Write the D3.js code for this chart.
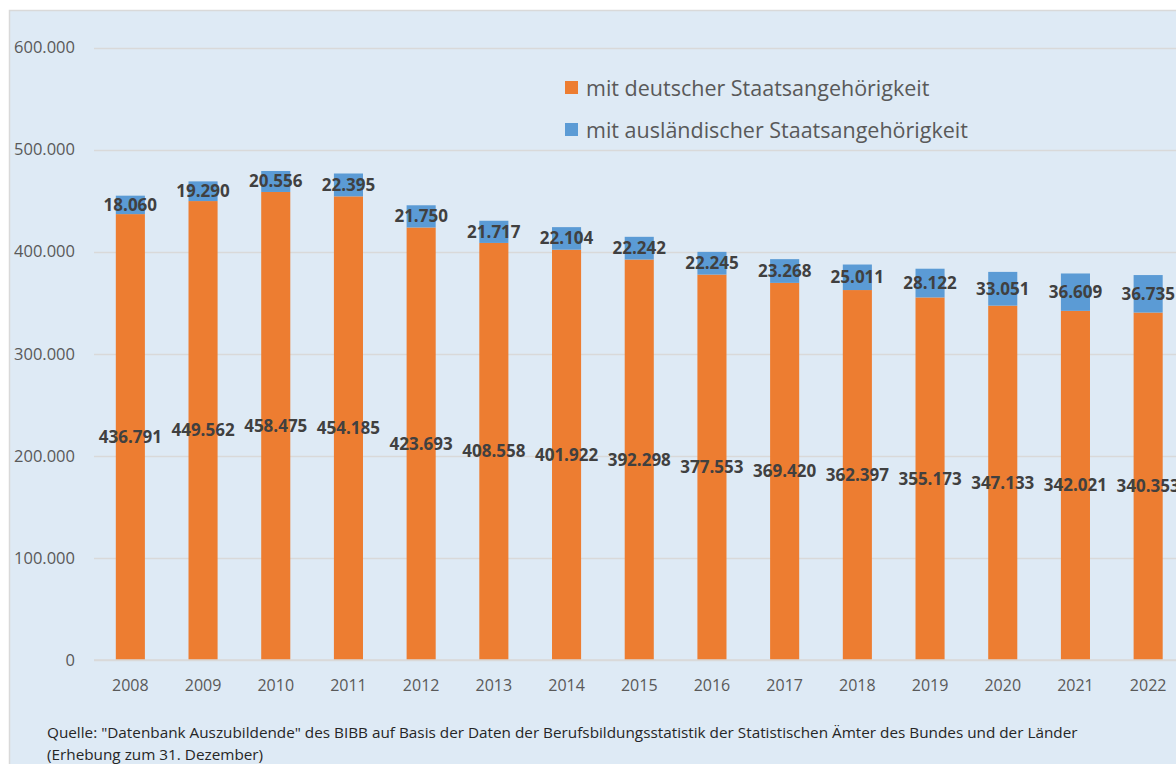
<!DOCTYPE html>
<html>
<head>
<meta charset="utf-8">
<script src="https://cdn.jsdelivr.net/npm/d3@7"></script>
<style>
  body { margin: 0; background: #fff; }
  svg { display: block; }
</style>
</head>
<body>
<div id="chart"></div>
<script>
// Data
const years = ["2008", "2009", "2010", "2011", "2012", "2013", "2014", "2015",
               "2016", "2017", "2018", "2019", "2020", "2021", "2022"];
const deutsch = [436791, 449562, 458475, 454185, 423693, 408558, 401922, 392298,
                 377553, 369420, 362397, 355173, 347133, 342021, 340353];
const auslaendisch = [18060, 19290, 20556, 22395, 21750, 21717, 22104, 22242,
                      22245, 23268, 25011, 28122, 33051, 36609, 36735];
const yTicks = [0, 100000, 200000, 300000, 400000, 500000, 600000];
const seriesNames = ["mit deutscher Staatsangehörigkeit", "mit ausländischer Staatsangehörigkeit"];
const sourceLines = [
  "Quelle: \"Datenbank Auszubildende\" des BIBB auf Basis der Daten der Berufsbildungsstatistik der Statistischen Ämter des Bundes und der Länder",
  "(Erhebung zum 31. Dezember)"
];

const W = 1176, H = 764;
const colors = ["#ed7d31", "#5b9bd5"];
const fmt = d => d3.format(",")(d).replace(/,/g, ".");

const svg = d3.select("#chart")
  .append("svg")
  .attr("width", W)
  .attr("height", H)
  .style("font-family", "'Open Sans', sans-serif");

// panel background
svg.append("rect")
  .attr("x", 9.5).attr("y", 10.5)
  .attr("width", W + 20).attr("height", H + 20)
  .attr("fill", "#deeaf5")
  .attr("stroke", "#d9d9d9")
  .attr("stroke-width", 1.5);

// scales
const x = d3.scaleBand()
  .domain(years)
  .range([94, 94 + 72.7 * years.length])
  .paddingInner(0.6)
  .paddingOuter(0.3);

const y = d3.scaleLinear()
  .domain([0, 600000])
  .range([660, 47.5]);

// gridlines
svg.append("g")
  .selectAll("line")
  .data(yTicks)
  .join("line")
    .attr("x1", 94).attr("x2", W)
    .attr("y1", d => Math.round(y(d)) + 0.5)
    .attr("y2", d => Math.round(y(d)) + 0.5)
    .attr("stroke", "#d9d9d9")
    .attr("stroke-width", 1.5);

// y tick labels
svg.append("g")
  .selectAll("text")
  .data(yTicks)
  .join("text")
    .attr("x", 75)
    .attr("y", d => y(d))
    .attr("dy", "0.35em")
    .attr("text-anchor", "end")
    .attr("fill", "#595959")
    .style("font-size", "16.5px")
    .text(d => d === 0 ? "0" : fmt(d));

// stacked bars
const rows = years.map((yr, i) => ({ year: yr, d: deutsch[i], a: auslaendisch[i] }));
const stack = d3.stack().keys(["d", "a"])(rows);

const layers = svg.append("g")
  .selectAll("g")
  .data(stack)
  .join("g")
    .attr("fill", (d, i) => colors[i]);

layers.selectAll("rect")
  .data(d => d)
  .join("rect")
    .attr("x", d => x(d.data.year))
    .attr("width", x.bandwidth())
    .attr("y", d => y(d[1]))
    .attr("height", d => y(d[0]) - y(d[1]));

// value labels, centered in each segment
layers.each(function(layer) {
  d3.select(this).selectAll("text")
    .data(layer)
    .join("text")
      .attr("x", d => x(d.data.year) + x.bandwidth() / 2)
      .attr("y", d => y((d[0] + d[1]) / 2))
      .attr("dy", "0.35em")
      .attr("text-anchor", "middle")
      .attr("fill", "#404040")
      .style("font-size", "17px")
      .style("font-weight", "bold")
      .text(d => fmt(d[1] - d[0]));
});

// x axis line
svg.append("line")
  .attr("x1", 94).attr("x2", W)
  .attr("y1", 660).attr("y2", 660)
  .attr("stroke", "#d9d9d9")
  .attr("stroke-width", 1.5);

// year labels
svg.append("g")
  .selectAll("text")
  .data(years)
  .join("text")
    .attr("x", d => x(d) + x.bandwidth() / 2)
    .attr("y", 685)
    .attr("dy", "0.35em")
    .attr("text-anchor", "middle")
    .attr("fill", "#595959")
    .style("font-size", "16px")
    .text(d => d);

// legend
const legend = svg.append("g")
  .selectAll("g")
  .data(seriesNames)
  .join("g")
    .attr("transform", (d, i) => `translate(565, ${81 + i * 42})`);

legend.append("rect")
  .attr("width", 13).attr("height", 13)
  .attr("fill", (d, i) => colors[i]);

legend.append("text")
  .attr("x", 21)
  .attr("y", 7)
  .attr("dy", "0.35em")
  .attr("fill", "#595959")
  .style("font-size", "21.5px")
  .text(d => d);

// source note
svg.append("g")
  .selectAll("text")
  .data(sourceLines)
  .join("text")
    .attr("x", 47)
    .attr("y", (d, i) => 733 + i * 22)
    .attr("dy", "0.35em")
    .attr("fill", "#262626")
    .style("font-size", "15.3px")
    .text(d => d);
</script>
</body>
</html>
